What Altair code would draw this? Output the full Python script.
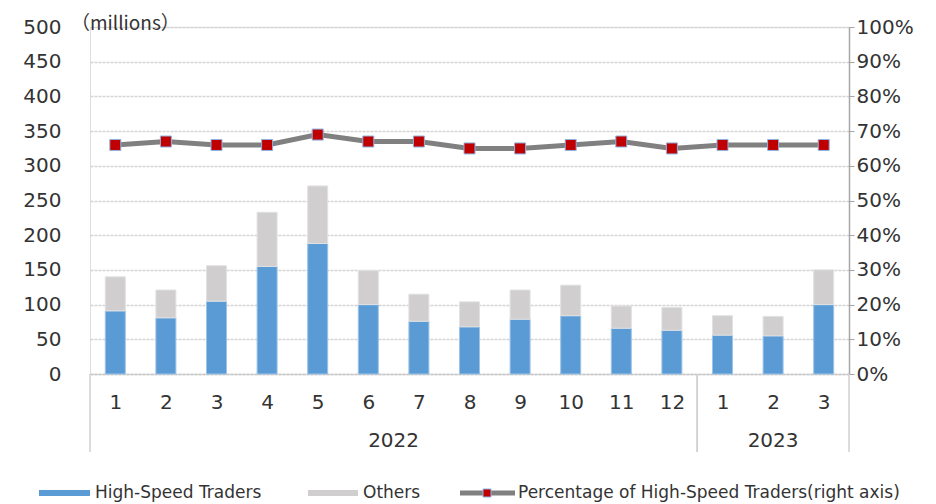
import altair as alt
import pandas as pd

# ---- data ----
months = ["1", "2", "3", "4", "5", "6", "7", "8", "9", "10", "11", "12", "1", "2", "3"]
years = ["2022"] * 12 + ["2023"] * 3
high_speed = [91, 81, 105, 155, 188, 100, 76, 68, 79, 84, 66, 63, 56, 55, 100]
others = [49, 40, 51, 78, 83, 49, 39, 36, 42, 44, 32, 33, 28, 28, 50]
pct_high_speed = [66, 67, 66, 66, 69, 67, 67, 65, 65, 66, 67, 65, 66, 66, 66]
series_names = ["High-Speed Traders", "Others", "Percentage of High-Speed Traders(right axis)"]
left_ticks = list(range(0, 501, 50))
right_ticks = list(range(0, 101, 10))
unit_label = "（millions）"

BLUE = "#5b9bd5"
GRAY = "#d0cece"
LINE = "#808080"
RED = "#c00000"
TXT = "#333333"
FONT = "DejaVu Sans"
W, H = 759, 347

df = pd.DataFrame({
    "pos": list(range(1, len(months) + 1)),
    "month": months,
    "year": years,
    series_names[0]: high_speed,
    series_names[1]: others,
    "pct": pct_high_speed,
})

x_scale = alt.Scale(domain=[0.5, len(months) + 0.5], nice=False, zero=False, padding=0)
month_expr = "[" + ",".join("'%s'" % m for m in months) + "][datum.value - 1]"
x_axis = alt.Axis(values=list(range(1, len(months) + 1)), labelExpr=month_expr, grid=False,
                  ticks=False, domain=True, domainColor="#c8c8c8", domainWidth=1.5,
                  domainDash=[3, 1],
                  labelPadding=28, labelBaseline="middle", labelFontSize=20,
                  labelColor=TXT, labelFont=FONT, title=None)

def X(field):
    return alt.X(field, scale=x_scale, axis=x_axis, title=None)

bars = alt.Chart(df).transform_fold(
    series_names[:2], as_=["series", "value"]
).transform_calculate(
    ord="datum.series == '%s' ? 0 : 1" % series_names[0]
).mark_bar(size=20, strokeWidth=1).encode(
    x=X("pos:Q"),
    y=alt.Y("value:Q", stack="zero", scale=alt.Scale(domain=[0, 500], nice=False),
            axis=alt.Axis(values=left_ticks, format="d", grid=True, gridColor="#d4d4d4",
                          gridDash=[3, 1], gridWidth=1.5, domain=False, ticks=False,
                          labelPadding=29, labelFontSize=20, labelColor=TXT,
                          labelFont=FONT, title=None)),
    color=alt.Color("series:N", scale=alt.Scale(domain=series_names[:2], range=[BLUE, GRAY]), legend=None),
    stroke=alt.Stroke("series:N", scale=alt.Scale(domain=series_names[:2], range=["#9dc3e6", "#e2e2e2"]), legend=None),
    order=alt.Order("ord:Q", sort="ascending"),
)

pct_y = alt.Y("pct:Q", scale=alt.Scale(domain=[0, 100], nice=False),
              axis=alt.Axis(orient="right", values=right_ticks, labelExpr="datum.value + '%'",
                            grid=False, domain=True, domainColor="#a6a6a6", domainWidth=1.5,
                            ticks=True, tickColor="#a6a6a6", tickSize=5, labelPadding=2,
                            labelFontSize=20, labelColor=TXT, labelFont=FONT, title=None))
line = alt.Chart(df).mark_line(color=LINE, strokeWidth=5).encode(x=X("pos:Q"), y=pct_y)
points = alt.Chart(df).mark_point(shape="square", filled=True, size=121, color=RED,
                                  stroke="#8db4e2", strokeWidth=1, opacity=1).encode(
    x=X("pos:Q"), y=pct_y)
pct_layer = alt.layer(line, points)

# year group labels and separators, derived from the data
year_text = alt.Chart(df).transform_aggregate(
    mid="mean(pos)", groupby=["year"]
).mark_text(fontSize=20, font=FONT, color=TXT, baseline="middle").encode(
    x=X("mid:Q"), y=alt.value(H + 67), text="year:N")

bounds = alt.Chart(df).transform_aggregate(
    lo="min(pos)", hi="max(pos)", groupby=["year"]
).transform_calculate(left="datum.lo - 0.5", right="datum.hi + 0.5")
sep_left = bounds.mark_rule(color="#d0d0d0", strokeWidth=1.5).encode(
    x=X("left:Q"), y=alt.value(H), y2=alt.value(H + 78))
sep_right = bounds.mark_rule(color="#d0d0d0", strokeWidth=1.5).encode(
    x=X("right:Q"), y=alt.value(H), y2=alt.value(H + 78))

unit = alt.Chart(alt.Data(values=[{"t": unit_label}])).mark_text(
    align="left", baseline="middle", fontSize=19, font="Noto Sans CJK JP", color=TXT
).encode(x=alt.value(-19), y=alt.value(-3), text="t:N")

# legend
LY = H + 119
def rect(x0, x1, c):
    return alt.Chart(alt.Data(values=[{"a": 1}])).mark_rect(color=c).encode(
        x=alt.value(x0), x2=alt.value(x1), y=alt.value(LY - 3), y2=alt.value(LY + 3))

def label(x0, t):
    return alt.Chart(alt.Data(values=[{"t": t}])).mark_text(
        align="left", baseline="middle", fontSize=17, font=FONT, color=TXT
    ).encode(x=alt.value(x0), y=alt.value(LY), text="t:N")

leg_line = alt.Chart(alt.Data(values=[{"a": 1}])).mark_rule(color=LINE, strokeWidth=5).encode(
    x=alt.value(370), x2=alt.value(425), y=alt.value(LY))
leg_pt = alt.Chart(alt.Data(values=[{"a": 1}])).mark_point(
    shape="square", filled=True, size=64, color=RED, stroke="#8db4e2", strokeWidth=1, opacity=1
).encode(x=alt.value(397), y=alt.value(LY))

legend = alt.layer(
    rect(-51, 0, BLUE), label(5, series_names[0]),
    rect(218, 268, GRAY), label(273, series_names[1]),
    leg_line, leg_pt, label(428, series_names[2]),
)

chart = alt.layer(
    sep_left, sep_right, bars, pct_layer, year_text, unit, legend
).resolve_scale(y="independent").properties(
    width=W, height=H,
    autosize=alt.AutoSizeParams(type="none"),
    padding={"left": 90, "top": 27, "right": 87, "bottom": 130},
).configure_view(stroke=None).configure(background="white")

chart.save("out.html", embed_options={"renderer": "svg", "actions": False})
